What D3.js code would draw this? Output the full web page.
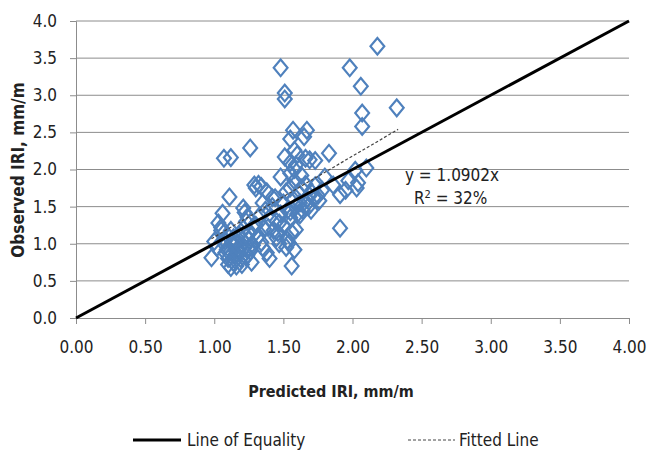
<!DOCTYPE html>
<html>
<head>
<meta charset="utf-8">
<script src="https://cdn.jsdelivr.net/npm/d3@7"></script>
<style>
  body { margin: 0; background: #fff; }
  text { font-family: "Liberation Sans Narrow", "Arial Narrow", "DejaVu Sans Condensed", sans-serif; fill: #222; }
</style>
</head>
<body>
<svg id="chart"></svg>
<script>
// observed vs predicted IRI (mm/m)
const predicted = [
  2.18, 1.98, 1.48, 2.06, 1.51, 1.51, 2.07, 2.07, 2.32, 1.57,
  1.67, 1.55, 1.65, 1.26, 1.12, 1.07, 1.83, 1.51, 1.66, 1.69,
  1.73, 1.60, 1.55, 1.59, 1.58, 2.02, 2.10, 1.97, 2.04, 1.95,
  2.03, 1.91, 1.91, 1.58, 1.56, 1.11, 1.06, 1.21, 1.29, 1.34,
  1.38, 1.24, 0.98, 1.00, 1.02, 1.05, 1.03, 1.07, 1.08, 1.10,
  1.12, 1.13, 1.15, 1.12, 1.14, 1.16, 1.18, 1.17, 1.19, 1.20,
  1.21, 1.22, 1.23, 1.22, 1.25, 1.24, 1.26, 1.27, 1.30, 1.32,
  1.35, 1.37, 1.33, 1.30, 1.32, 1.35, 1.38, 1.40, 1.36, 1.40,
  1.42, 1.44, 1.45, 1.46, 1.47, 1.48, 1.48, 1.50, 1.52, 1.50,
  1.52, 1.53, 1.55, 1.55, 1.56, 1.57, 1.58, 1.59, 1.60, 1.61,
  1.62, 1.63, 1.64, 1.66, 1.67, 1.68, 1.70, 1.72, 1.73, 1.75,
  1.78, 1.80, 1.70, 1.63, 1.58, 1.55, 1.53, 1.42, 1.86, 1.55,
  1.62, 1.59, 1.54, 1.10, 1.15, 1.18, 1.28, 1.31, 1.43, 1.47,
  1.05, 1.09, 1.14, 1.20, 1.26, 1.34, 1.39, 1.45, 1.66, 1.76,
  1.08, 1.12, 1.16, 1.19, 1.23, 1.28, 1.10, 1.25
];
const observed = [
  3.66, 3.37, 3.37, 3.12, 3.03, 2.95, 2.76, 2.58, 2.83, 2.53,
  2.53, 2.41, 2.44, 2.29, 2.16, 2.15, 2.22, 2.17, 2.15, 2.13,
  2.12, 2.20, 2.09, 2.06, 2.26, 1.99, 2.02, 1.85, 1.82, 1.72,
  1.75, 1.66, 1.21, 0.92, 0.70, 1.63, 1.41, 1.48, 1.79, 1.77,
  1.70, 1.36, 0.81, 1.03, 0.95, 1.22, 1.28, 1.05, 0.98, 1.10,
  0.90, 1.02, 0.85, 0.68, 0.75, 1.00, 1.12, 0.93, 0.80, 1.05,
  1.20, 0.95, 1.30, 1.42, 1.05, 0.85, 1.15, 0.75, 1.75, 1.80,
  1.55, 1.45, 1.38, 1.25, 1.10, 0.95, 0.88, 0.80, 1.20, 1.35,
  1.50, 1.62, 1.30, 1.15, 1.00, 1.40, 1.90, 1.55, 1.70, 1.25,
  0.95, 1.45, 1.75, 1.35, 1.15, 1.60, 1.85, 1.50, 1.40, 1.68,
  1.55, 1.75, 1.45, 1.80, 1.60, 1.50, 1.70, 1.62, 1.78, 1.65,
  1.72, 1.90, 1.45, 1.92, 2.00, 1.95, 1.05, 1.62, 1.79, 1.43,
  1.39, 1.19, 1.01, 0.72, 0.78, 0.88, 0.98, 1.08, 1.18, 1.28,
  1.18, 0.92, 1.08, 0.72, 0.90, 1.02, 1.22, 1.08, 1.52, 1.58,
  0.88, 1.18, 0.70, 0.98, 0.82, 1.22, 0.80, 0.95
];
const xTicks = [0, 0.5, 1, 1.5, 2, 2.5, 3, 3.5, 4];
const yTicks = [0, 0.5, 1, 1.5, 2, 2.5, 3, 3.5, 4];
const slope = 1.0902;
const fitRange = [0.98, 2.33];
const equation = "y = 1.0902x";
const rSquared = "32%";
const legendLabels = ["Line of Equality", "Fitted Line"];

const points = predicted.map((p, i) => ({ x: p, y: observed[i] }));

const svgWidth = 647, svgHeight = 452;
const margin = { top: 21, right: 18, bottom: 134, left: 76 };
const width = svgWidth - margin.left - margin.right;
const height = svgHeight - margin.top - margin.bottom;

const svg = d3.select("#chart").attr("width", svgWidth).attr("height", svgHeight);
const g = svg.append("g").attr("transform", "translate(" + margin.left + "," + margin.top + ")");

const x = d3.scaleLinear().domain([0, 4]).range([0, width]);
const y = d3.scaleLinear().domain([0, 4]).range([height, 0]);

// horizontal gridlines
g.append("g").selectAll("line")
  .data(yTicks.filter(d => d > 0))
  .join("line")
  .attr("x1", 0).attr("x2", width)
  .attr("y1", d => y(d)).attr("y2", d => y(d))
  .attr("stroke", "#8c8c8c").attr("stroke-width", 1);

// y axis
const yAxis = g.append("g")
  .call(d3.axisLeft(y).tickValues(yTicks).tickFormat(d3.format(".1f")).tickSize(6).tickPadding(13));
yAxis.select(".domain").attr("stroke", "#8c8c8c");
yAxis.selectAll(".tick line").attr("stroke", "#8c8c8c");
yAxis.selectAll("text").style("font-size", "17px").attr("fill", "#222");

// x axis
const xAxis = g.append("g")
  .attr("transform", "translate(0," + height + ")")
  .call(d3.axisBottom(x).tickValues(xTicks).tickFormat(d3.format(".2f")).tickSize(6).tickPadding(17));
xAxis.select(".domain").attr("stroke", "#8c8c8c");
xAxis.selectAll(".tick line").attr("stroke", "#8c8c8c");
xAxis.selectAll("text").style("font-size", "17px").attr("fill", "#222");

// points (diamonds, a little taller than wide as in the picture)
g.append("g").selectAll("path")
  .data(points)
  .join("path")
  .attr("d", d3.symbol(d3.symbolSquare, 96))
  .attr("transform", d => "translate(" + x(d.x) + "," + y(d.y) + ") scale(1,1.2) rotate(45)")
  .attr("fill", "none")
  .attr("stroke", "#4f81bd")
  .attr("stroke-width", 2);

// line of equality
g.append("line")
  .attr("x1", x(0)).attr("y1", y(0))
  .attr("x2", x(4)).attr("y2", y(4))
  .attr("stroke", "#000").attr("stroke-width", 3);

// fitted line
g.append("line")
  .attr("x1", x(fitRange[0])).attr("y1", y(slope * fitRange[0]))
  .attr("x2", x(fitRange[1])).attr("y2", y(slope * fitRange[1]))
  .attr("stroke", "#444").attr("stroke-width", 1.2)
  .attr("stroke-dasharray", "3,2");

// equation
g.append("text")
  .attr("x", x(2.72)).attr("y", y(1.85))
  .attr("text-anchor", "middle")
  .style("font-size", "17px")
  .text(equation);
const r2 = g.append("text")
  .attr("x", x(2.71)).attr("y", y(1.53))
  .attr("text-anchor", "middle")
  .style("font-size", "17px");
r2.append("tspan").text("R");
r2.append("tspan").attr("dy", -6).style("font-size", "11px").text("2");
r2.append("tspan").attr("dy", 6).text(" = " + rSquared);

// axis titles
svg.append("text")
  .attr("x", 331).attr("y", 397)
  .attr("text-anchor", "middle")
  .style("font-size", "16px").style("font-weight", "bold")
  .text("Predicted IRI, mm/m");
svg.append("text")
  .attr("transform", "translate(24,170) rotate(-90)")
  .attr("text-anchor", "middle")
  .style("font-size", "17px").style("font-weight", "bold")
  .text("Observed IRI, mm/m");

// legend
const legend = svg.append("g").attr("transform", "translate(0,440)");
legend.append("line")
  .attr("x1", 133).attr("x2", 181).attr("y1", 0).attr("y2", 0)
  .attr("stroke", "#000").attr("stroke-width", 3);
legend.append("text").attr("x", 187).attr("y", 6).style("font-size", "17px").text(legendLabels[0]);
legend.append("line")
  .attr("x1", 408).attr("x2", 455).attr("y1", 0).attr("y2", 0)
  .attr("stroke", "#444").attr("stroke-width", 1)
  .attr("stroke-dasharray", "3,2");
legend.append("text").attr("x", 459).attr("y", 6).style("font-size", "17px").text(legendLabels[1]);
</script>
</body>
</html>
